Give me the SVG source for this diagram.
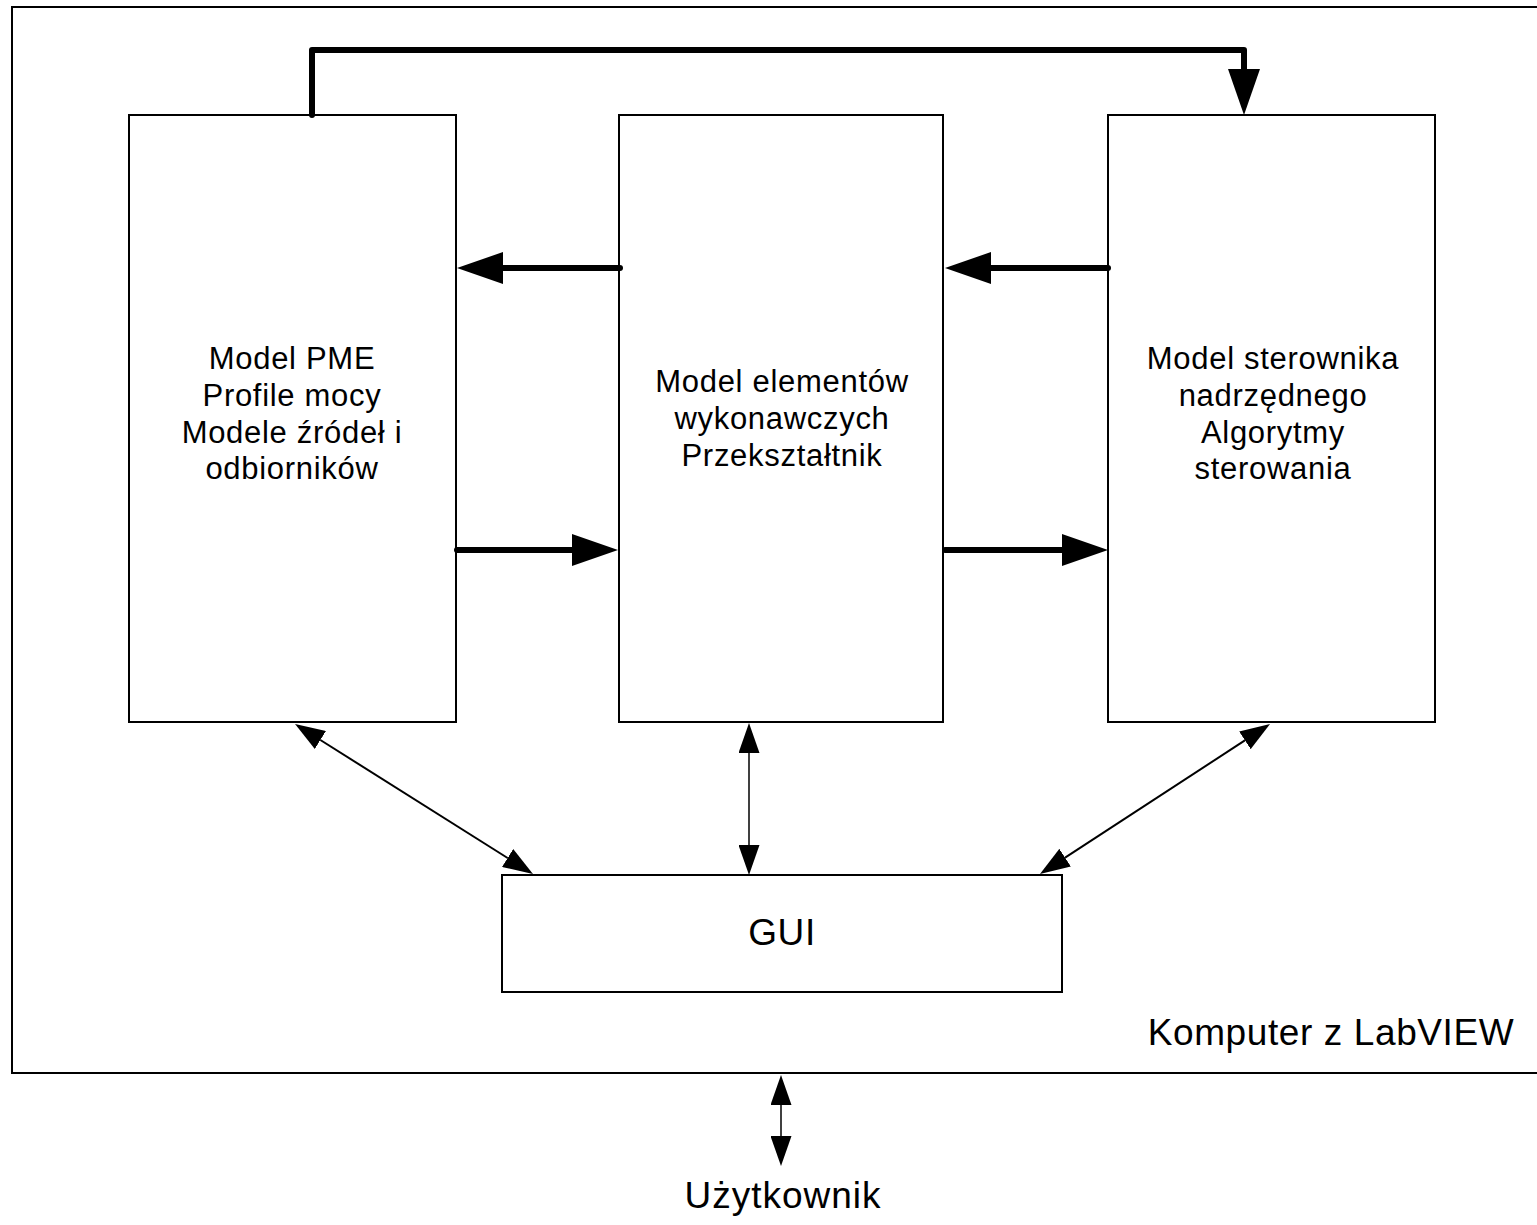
<svg xmlns="http://www.w3.org/2000/svg" width="1537" height="1225" viewBox="0 0 1537 1225">
<style>
.box{fill:#fff;stroke:#000;stroke-width:2}
.lbl{font-family:"Liberation Sans",Arial,sans-serif;font-size:31px;letter-spacing:0.7px;fill:#000;text-anchor:middle}
.big{font-family:"Liberation Sans",Arial,sans-serif;font-size:37px;letter-spacing:0.6px;fill:#000;text-anchor:middle}
.thick{fill:none;stroke:#000;stroke-width:6;stroke-linecap:round;stroke-linejoin:round}
.thin{fill:none;stroke:#000;stroke-width:2}
.thinv{fill:none;stroke:#000;stroke-width:1.5}
</style>
<defs>
<marker id="bigHead" markerUnits="userSpaceOnUse" viewBox="0 0 46 32" markerWidth="46" markerHeight="32" refX="0" refY="16" orient="auto">
<path d="M0,0 L46,16 L0,32 z" fill="#000"/>
</marker>
<marker id="smallHead" markerUnits="userSpaceOnUse" viewBox="0 0 30 21" markerWidth="30" markerHeight="21" refX="0" refY="10.5" orient="auto-start-reverse">
<path d="M0,0 L30,10.5 L0,21 z" fill="#000"/>
</marker>
</defs>
<rect width="1537" height="1225" fill="#fff"/>
<g id="komputer">
<rect class="box" x="12" y="7" width="1535" height="1066" fill="none"/>
<text class="big" x="1331" y="1045">Komputer z LabVIEW</text>
</g>
<g id="model-pme">
<rect class="box" x="129" y="115" width="327" height="607"/>
<text class="lbl" x="292" y="369">Model PME</text>
<text class="lbl" x="292" y="406">Profile mocy</text>
<text class="lbl" x="292" y="443">Modele źródeł i</text>
<text class="lbl" x="292" y="479">odbiorników</text>
</g>
<g id="model-elementow">
<rect class="box" x="619" y="115" width="324" height="607"/>
<text class="lbl" x="782" y="392">Model elementów</text>
<text class="lbl" x="782" y="429">wykonawczych</text>
<text class="lbl" x="782" y="466">Przekształtnik</text>
</g>
<g id="model-sterownika">
<rect class="box" x="1108" y="115" width="327" height="607"/>
<text class="lbl" x="1273" y="369">Model sterownika</text>
<text class="lbl" x="1273" y="406">nadrzędnego</text>
<text class="lbl" x="1273" y="443">Algorytmy</text>
<text class="lbl" x="1273" y="479">sterowania</text>
</g>
<g id="gui">
<rect class="box" x="502" y="875" width="560" height="117"/>
<text class="big" x="782" y="945">GUI</text>
</g>
<g id="uzytkownik">
<text class="big" x="783" y="1208" style="letter-spacing:1px">Użytkownik</text>
</g>
<g id="connectors">
<path class="thick" d="M312,115 V50 H1244 V69" marker-end="url(#bigHead)"/>
<path class="thick" d="M620,268 H503" marker-end="url(#bigHead)"/>
<path class="thick" d="M457,550 H572" marker-end="url(#bigHead)"/>
<path class="thick" d="M1108,268 H991" marker-end="url(#bigHead)"/>
<path class="thick" d="M945,550 H1062" marker-end="url(#bigHead)"/>
<path class="thin" d="M320.4,740 L507.6,858" marker-start="url(#smallHead)" marker-end="url(#smallHead)"/>
<path class="thin" d="M1244.9,740.4 L1065.1,857.6" marker-start="url(#smallHead)" marker-end="url(#smallHead)"/>
<path class="thinv" d="M749,753 V845" marker-start="url(#smallHead)" marker-end="url(#smallHead)"/>
<path class="thinv" d="M781,1105 V1136" marker-start="url(#smallHead)" marker-end="url(#smallHead)"/>
</g>
</svg>
